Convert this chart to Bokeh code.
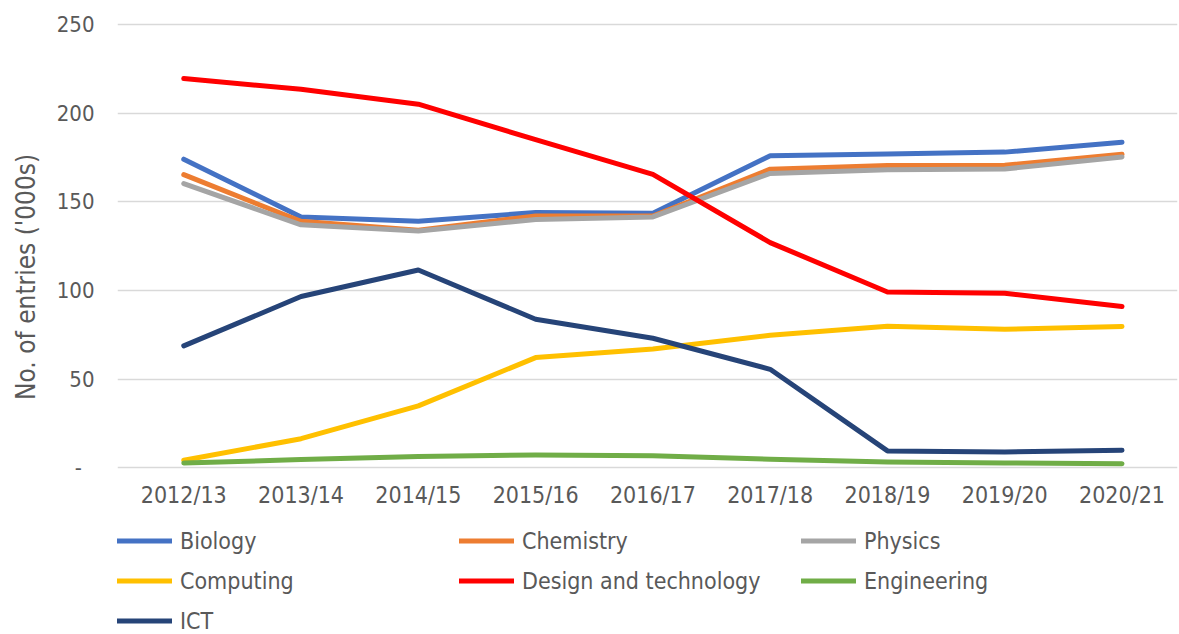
from bokeh.plotting import figure
from bokeh.layouts import column
from bokeh.models import Range1d, FixedTicker, Legend, LegendItem
from bokeh.embed import file_html
from bokeh.resources import INLINE

years = ["2012/13", "2013/14", "2014/15", "2015/16", "2016/17",
         "2017/18", "2018/19", "2019/20", "2020/21"]
biology = [174, 141.5, 139, 144, 143.5, 176, 177, 178, 183.6]
chemistry = [165.3, 139, 134, 142, 142, 168.4, 170.4, 170.6, 176.8]
physics = [160.3, 137, 133.6, 140, 141.5, 166, 168, 168.5, 175.3]
computing = [4.3, 16.5, 35, 62.2, 67, 74.8, 79.9, 78.2, 79.7]
design_tech = [219.5, 213.4, 205, 185, 165.5, 127, 99.2, 98.5, 91]
engineering = [2.8, 4.7, 6.4, 7.3, 6.9, 4.9, 3.4, 2.8, 2.4]
ict = [68.8, 96.6, 111.6, 83.8, 73.1, 55.6, 9.6, 9.0, 10]

y_ticks = [0, 50, 100, 150, 200, 250]
y_tick_labels = ["-\u00a0\u00a0", "50", "100", "150", "200", "250"]
y_title = "No. of entries ('000s)"

series = [
    ("Biology", biology, "#4472C4"),
    ("Chemistry", chemistry, "#ED7D31"),
    ("Physics", physics, "#A5A5A5"),
    ("Computing", computing, "#FFC000"),
    ("Design and technology", design_tech, "#FF0000"),
    ("Engineering", engineering, "#70AD47"),
    ("ICT", ict, "#264478"),
]

FONT = "DejaVu Sans Condensed"
TXT = "#595959"
LW = 5
NAN = float("nan")

p = figure(width=1179, height=512, output_backend="svg", toolbar_location=None,
           x_range=Range1d(-0.565, 8.473), y_range=Range1d(-2, 255),
           min_border_left=117, min_border_right=2, min_border_top=15,
           min_border_bottom=41)
p.outline_line_color = None

xs = list(range(len(years)))
for name, vals, col in series:
    p.line(xs, vals, line_color=col, line_width=LW,
           line_cap="round", line_join="round")

p.xaxis.ticker = FixedTicker(ticks=xs)
p.xaxis.major_label_overrides = {i: y for i, y in enumerate(years)}
p.yaxis.ticker = FixedTicker(ticks=y_ticks)
p.yaxis.major_label_overrides = {t: l for t, l in zip(y_ticks, y_tick_labels)}

for ax in (p.xaxis, p.yaxis):
    ax.axis_line_color = None
    ax.major_tick_line_color = None
    ax.minor_tick_line_color = None
    ax.major_label_text_font = FONT
    ax.major_label_text_color = TXT

p.xaxis.major_label_text_font_size = "23px"
p.yaxis.major_label_text_font_size = "22px"
p.xaxis.major_label_standoff = 4
p.yaxis.major_label_standoff = 17

p.yaxis.axis_label = y_title + "\u00a0" * 9
p.yaxis.axis_label_text_font = FONT
p.yaxis.axis_label_text_font_size = "26px"
p.yaxis.axis_label_text_font_style = "normal"
p.yaxis.axis_label_text_color = TXT
p.yaxis.axis_label_standoff = 13

p.xgrid.grid_line_color = None
p.ygrid.grid_line_color = "#D9D9D9"
p.ygrid.grid_line_width = 1.3

# legend panel
p2 = figure(width=1179, height=122, output_backend="svg", toolbar_location=None,
            x_range=Range1d(0, 1), y_range=Range1d(0, 1),
            x_axis_type=None, y_axis_type=None,
            min_border_left=117, min_border_right=2, min_border_top=0,
            min_border_bottom=0)
p2.outline_line_color = None
p2.grid.visible = False

items = []
for name, vals, col in series:
    r = p2.line(x=[NAN], y=[NAN], line_color=col, line_width=LW,
                line_cap="round")
    items.append(LegendItem(label=name, renderers=[r]))

legend = Legend(items=items, ncols=3, orientation="horizontal",
                location=(0, 0), border_line_color=None,
                background_fill_alpha=0, padding=0, margin=0,
                glyph_width=55, glyph_height=27, label_height=27,
                label_width=266, label_standoff=8, spacing=13,
                label_text_font=FONT, label_text_font_size="23px",
                label_text_color=TXT)
p2.add_layout(legend, "center")

layout = column(p, p2, spacing=0)
open("out.html", "w").write(file_html(layout, INLINE))
